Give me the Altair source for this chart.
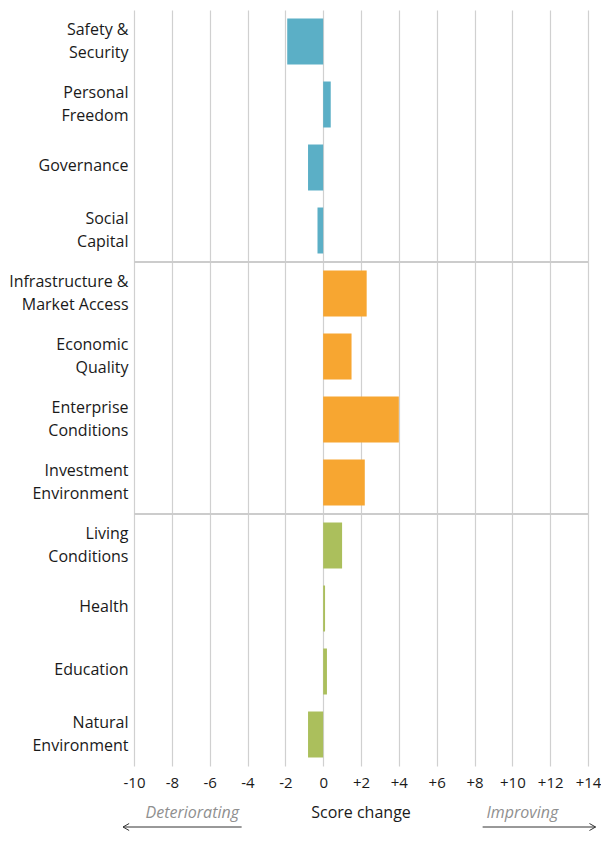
import altair as alt
import pandas as pd

categories = ["Safety &\nSecurity", "Personal\nFreedom", "Governance", "Social\nCapital",
              "Infrastructure &\nMarket Access", "Economic\nQuality", "Enterprise\nConditions",
              "Investment\nEnvironment", "Living\nConditions", "Health", "Education",
              "Natural\nEnvironment"]
groups = ["Inclusive Societies"] * 4 + ["Open Economies"] * 4 + ["Empowered People"] * 4
values = [-1.9, 0.4, -0.8, -0.3, 2.3, 1.5, 4.0, 2.2, 1.0, 0.1, 0.2, -0.8]
group_names = ["Inclusive Societies", "Open Economies", "Empowered People"]
group_colors = ["#5BAFC6", "#F7A631", "#ABBF5C"]
tick_values = list(range(-10, 15, 2))
separators = ["Infrastructure &\nMarket Access", "Living\nConditions"]

side_text = ["Deteriorating", "Improving"]
side_x = [-6.92, 10.53]
title_text = ["Score change"]
title_x = [2.0]
arrow_start = [-10.58, 8.43]
arrow_end = [-4.31, 14.4]

FONT = "Open Sans"

df = pd.DataFrame({"cat": categories, "group": groups, "value": values})
sep_df = pd.DataFrame({"cat": separators})
side_df = pd.DataFrame({"label": side_text, "x": side_x})
title_df = pd.DataFrame({"label": title_text, "x": title_x})
arrows_df = pd.DataFrame({"x": arrow_start, "x2": arrow_end})

xscale = alt.Scale(domain=[-10, 14], nice=False, zero=False)
yscale = alt.Scale(domain=categories, paddingInner=0, paddingOuter=0)

xaxis = alt.Axis(values=tick_values, title=None, grid=True, gridColor="#d0d0d0",
                 gridWidth=1.2, ticks=False, domain=False, labelPadding=9,
                 labelFontSize=15, labelFont=FONT, labelColor="#1a1a1a",
                 labelFlush=False, labelOverlap=False, tickCount=13,
                 labelExpr="datum.value > 0 ? '+' + datum.value : '' + datum.value")

yaxis = alt.Axis(title=None, ticks=False, domain=False, grid=False,
                 labelFontSize=16, labelFont=FONT, labelColor="#1a1a1a",
                 labelLineHeight=23, labelPadding=6, labelLimit=0,
                 labelOffset={"condition": {"test": "indexof(datum.label, '\\n') >= 0", "value": -11.2},
                              "value": -2},
                 labelExpr="split(datum.label, '\\n')")

def X(field):
    return alt.X(field, scale=xscale, axis=xaxis)

bars = alt.Chart(df).mark_bar(height=alt.RelativeBandSize(0.73)).encode(
    x=X("value:Q"),
    x2=alt.datum(0),
    y=alt.Y("cat:N", scale=yscale, axis=yaxis),
    color=alt.Color("group:N", scale=alt.Scale(domain=group_names, range=group_colors), legend=None),
)

seps = alt.Chart(sep_df).mark_rule(color="#cccccc", strokeWidth=2).encode(
    y=alt.Y("cat:N", scale=yscale, axis=yaxis, bandPosition=0)
)

TEXT_Y = 803
ARROW_Y = 817

side_notes = alt.Chart(side_df).mark_text(
    font=FONT, fontSize=16, fontStyle="italic", color="#8f8f8f", baseline="middle", align="center"
).encode(
    x=X("x:Q"),
    y=alt.value(TEXT_Y),
    text="label:N",
)

title_note = alt.Chart(title_df).mark_text(
    font=FONT, fontSize=16, color="#1a1a1a", baseline="middle", align="center"
).encode(
    x=X("x:Q"),
    y=alt.value(TEXT_Y),
    text="label:N",
)

arrow_lines = alt.Chart(arrows_df).mark_rule(color="#333333", strokeWidth=1).encode(
    x=X("x:Q"),
    x2="x2:Q",
    y=alt.value(ARROW_Y),
)

left_head = alt.Chart(pd.DataFrame({"x": [arrow_start[0]]})).mark_point(
    shape="M1.75,-1L0,0L1.75,1", size=49, filled=False, color="#333333", strokeWidth=1, opacity=1
).encode(x=X("x:Q"), y=alt.value(ARROW_Y))

right_head = alt.Chart(pd.DataFrame({"x": [arrow_end[1]]})).mark_point(
    shape="M-1.75,-1L0,0L-1.75,1", size=49, filled=False, color="#333333", strokeWidth=1, opacity=1
).encode(x=X("x:Q"), y=alt.value(ARROW_Y))

chart = alt.layer(bars, seps, side_notes, title_note, arrow_lines, left_head, right_head).properties(
    width=454, height=756,
    autosize=alt.AutoSizeParams(type="none"),
    padding={"left": 126, "top": 2, "right": 13, "bottom": 66},
).configure_view(stroke=None)

chart.save("out.html", embed_options={"renderer": "svg", "actions": False})
